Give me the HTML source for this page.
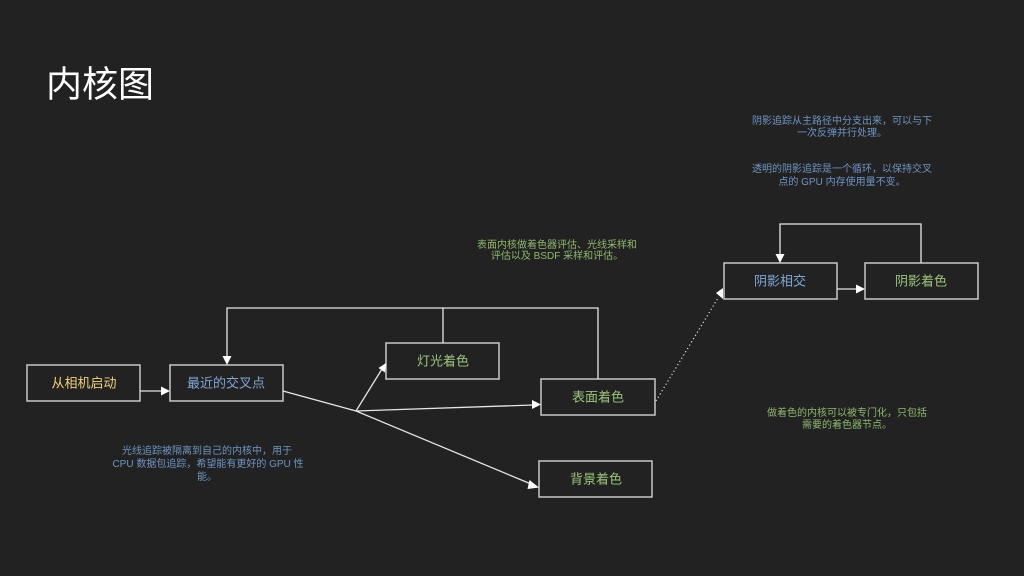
<!DOCTYPE html>
<html><head><meta charset="utf-8"><style>
html,body{margin:0;padding:0;background:#222222;}
svg{display:block;}
text{font-family:"Liberation Sans","Noto Sans CJK SC",sans-serif;}
</style></head><body>
<svg width="1024" height="576" viewBox="0 0 1024 576" xmlns="http://www.w3.org/2000/svg">
<rect width="1024" height="576" fill="#222222"/>
<text x="46" y="84" font-size="36" fill="#ffffff" dominant-baseline="central">内核图</text>

<g fill="#222222" stroke="#c8c8c8" stroke-width="1.5">
<rect x="27" y="365" width="113" height="36"/>
<rect x="170" y="365" width="113" height="36"/>
<rect x="386" y="343" width="113" height="36"/>
<rect x="541" y="379" width="114" height="36"/>
<rect x="539" y="461" width="113" height="36"/>
<rect x="724" y="263" width="113" height="36"/>
<rect x="865" y="263" width="113" height="36"/>
</g>

<g font-size="13" text-anchor="middle" dominant-baseline="central">
<text x="84" y="383" fill="#f2d27c">从相机启动</text>
<text x="226" y="383" fill="#7fa8d6">最近的交叉点</text>
<text x="443" y="361" fill="#9cc47c">灯光着色</text>
<text x="598" y="397" fill="#9cc47c">表面着色</text>
<text x="596" y="479" fill="#9cc47c">背景着色</text>
<text x="780" y="281" fill="#7fa8d6">阴影相交</text>
<text x="921" y="281" fill="#9cc47c">阴影着色</text>
</g>

<g stroke="#e6e6e6" stroke-width="1.3" fill="none">
<line x1="140" y1="391" x2="162" y2="391"/>
<polyline points="598,379 598,308 227,308 227,357"/>
<line x1="443" y1="343" x2="443" y2="308"/>
<line x1="283" y1="391" x2="356" y2="411"/>
<line x1="356" y1="411" x2="382" y2="369"/>
<line x1="356" y1="411" x2="533" y2="405"/>
<line x1="356" y1="411" x2="531" y2="484"/>
<line x1="837" y1="289" x2="857" y2="289"/>
<polyline points="921,263 921,224 780,224 780,255"/>
</g>
<line x1="656" y1="401" x2="718" y2="298" stroke="#dddddd" stroke-width="1.2" stroke-dasharray="1.2 2.6"/>

<g fill="#ffffff">
<polygon points="170,391 161,386.5 161,395.5"/>
<polygon points="227,365 222.5,356 231.5,356"/>
<polygon points="386,363 378.5,368 385,372.5"/>
<polygon points="541,404.5 532,400 532,409"/>
<polygon points="539,487.5 529.5,480 527.5,489"/>
<polygon points="865,289 856,284.5 856,293.5"/>
<polygon points="780,263 775.5,254 784.5,254"/>
<polygon points="716,293 723,288 723,299"/>
</g>

<g font-size="10" text-anchor="middle">
<text x="207" y="454" fill="#6f95c4">光线追踪被隔离到自己的内核中，用于</text>
<text x="208" y="467" fill="#6f95c4">CPU 数据包追踪，希望能有更好的 GPU 性</text>
<text x="207" y="480" fill="#6f95c4">能。</text>
<text x="557" y="248" fill="#8fb86e">表面内核做着色器评估、光线采样和</text>
<text x="557" y="259" fill="#8fb86e">评估以及 BSDF 采样和评估。</text>
<text x="842" y="124" fill="#6f95c4">阴影追踪从主路径中分支出来，可以与下</text>
<text x="842" y="136" fill="#6f95c4">一次反弹并行处理。</text>
<text x="842" y="172" fill="#6f95c4">透明的阴影追踪是一个循环，以保持交叉</text>
<text x="842" y="185" fill="#6f95c4">点的 GPU 内存使用量不变。</text>
<text x="847" y="416" fill="#8fb86e">做着色的内核可以被专门化，只包括</text>
<text x="847" y="428" fill="#8fb86e">需要的着色器节点。</text>
</g>
</svg>
</body></html>
